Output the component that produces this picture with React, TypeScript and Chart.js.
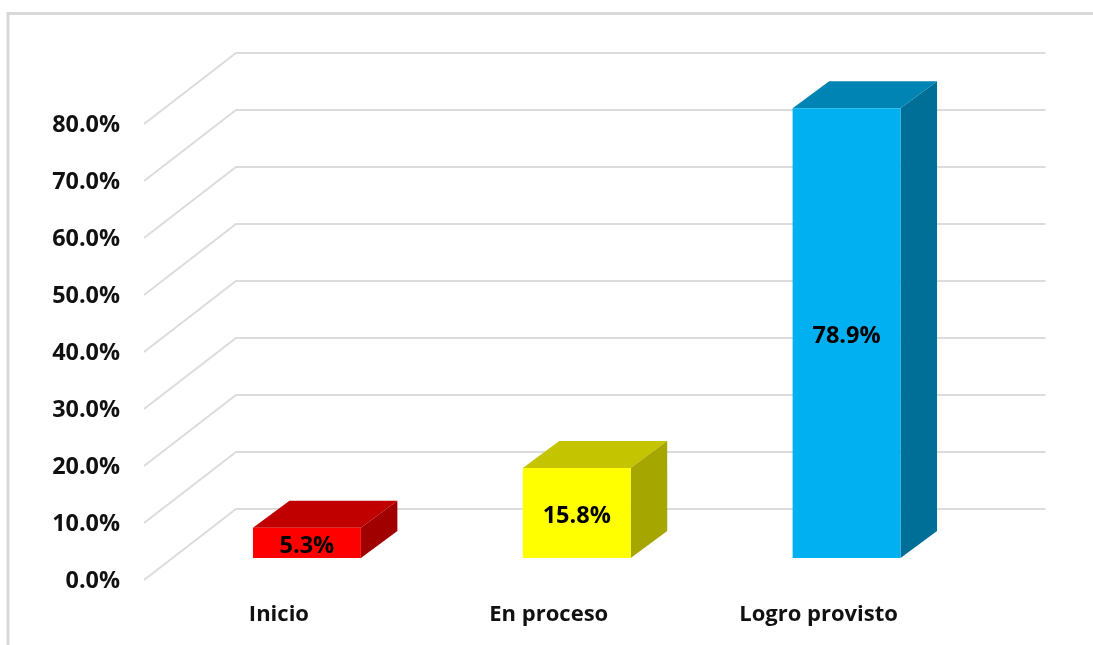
import React, { useEffect, useRef } from "react";
import { Chart, registerables } from "chart.js";

Chart.register(...registerables);

const categories = ["Inicio", "En proceso", "Logro provisto"];
const values = [5.3, 15.8, 78.9];
const frontColors = ["#FF0000", "#FFFF00", "#00B0F0"];
const topColors = ["#C00000", "#C4C400", "#0084B4"];
const sideColors = ["#A00000", "#A6A600", "#006F97"];
const gridValues = [0, 10, 20, 30, 40, 50, 60, 70, 80];

const FONT = "'Open Sans', sans-serif";
const WALL_DX = 92;
const WALL_DY = -71;
const BAR_SHIFT_X = 28;
const BAR_SHIFT_Y = -22;
const DEPTH_X = 36.5;
const DEPTH_Y = -27;
const Y_LABEL_NUDGE = 1.5;

const poly = (ctx: CanvasRenderingContext2D, pts: number[][], fill: string) => {
  ctx.beginPath();
  pts.forEach((p, i) => (i ? ctx.lineTo(p[0], p[1]) : ctx.moveTo(p[0], p[1])));
  ctx.closePath();
  ctx.fillStyle = fill;
  ctx.fill();
};

const frame3d = {
  id: "frame3d",
  beforeDraw(chart: any) {
    const { ctx, chartArea, scales } = chart;
    scales.y.getLabelItems().forEach((item: any) => {
      if (!item.nudged) {
        item.options.translation[1] += Y_LABEL_NUDGE;
        item.nudged = true;
      }
    });
    ctx.save();
    ctx.strokeStyle = "#D9D9D9";
    ctx.lineWidth = 3;
    ctx.beginPath();
    ctx.moveTo(8, 645);
    ctx.lineTo(8, 13.5);
    ctx.lineTo(1093, 13.5);
    ctx.stroke();
    ctx.lineWidth = 2;
    ctx.strokeStyle = "#DCDCDC";
    gridValues.forEach((v) => {
      const y = scales.y.getPixelForValue(v);
      ctx.beginPath();
      ctx.moveTo(chartArea.left, y);
      ctx.lineTo(chartArea.left + WALL_DX, y + WALL_DY);
      ctx.lineTo(chartArea.right + WALL_DX, y + WALL_DY);
      ctx.stroke();
    });
    ctx.restore();
  },
  beforeDatasetsDraw(chart: any) {
    const { ctx } = chart;
    ctx.save();
    ctx.translate(BAR_SHIFT_X, BAR_SHIFT_Y);
    chart.getDatasetMeta(0).data.forEach((bar: any, i: number) => {
      const p = bar.getProps(["x", "y", "base", "width"], true);
      const l = p.x - p.width / 2;
      const r = p.x + p.width / 2;
      poly(ctx, [[l, p.y], [r, p.y], [r + DEPTH_X, p.y + DEPTH_Y], [l + DEPTH_X, p.y + DEPTH_Y]], topColors[i]);
      poly(ctx, [[r, p.y], [r + DEPTH_X, p.y + DEPTH_Y], [r + DEPTH_X, p.base + DEPTH_Y], [r, p.base]], sideColors[i]);
    });
  },
  afterDatasetsDraw(chart: any) {
    const { ctx } = chart;
    ctx.restore();
    ctx.save();
    ctx.fillStyle = "#000000";
    ctx.font = `bold 23.5px ${FONT}`;
    ctx.textAlign = "center";
    ctx.textBaseline = "middle";
    chart.getDatasetMeta(0).data.forEach((bar: any, i: number) => {
      const p = bar.getProps(["x", "y", "base"], true);
      ctx.fillText(`${values[i].toFixed(1)}%`, p.x + BAR_SHIFT_X, (p.y + p.base) / 2 + BAR_SHIFT_Y + 3);
    });
    ctx.restore();
  },
};

export default function App() {
  const ref = useRef<HTMLCanvasElement>(null);
  useEffect(() => {
    const chart = new Chart(ref.current!, {
      type: "bar",
      data: {
        labels: categories,
        datasets: [
          {
            data: values,
            backgroundColor: frontColors,
            barPercentage: 0.4,
            categoryPercentage: 1,
          },
        ],
      },
      options: {
        responsive: false,
        animation: false,
        layout: { padding: { top: 124, right: 139.5, left: 0, bottom: 0 } },
        plugins: { legend: { display: false }, tooltip: { enabled: false } },
        scales: {
          x: {
            afterFit: (s: any) => {
              s.height = 65;
            },
            grid: { display: false, drawTicks: false },
            border: { display: false },
            ticks: {
              color: "#111111",
              padding: 22,
              maxRotation: 0,
              font: { family: FONT, weight: "bold", size: 22 },
            },
          },
          y: {
            min: 0,
            max: 80,
            afterFit: (s: any) => {
              s.width = 144;
            },
            grid: { display: false, drawTicks: false },
            border: { display: false },
            ticks: {
              stepSize: 10,
              color: "#111111",
              padding: 24,
              font: { family: FONT, weight: "bold", size: 23.4 },
              callback: (v: any) => `${Number(v).toFixed(1)}%`,
            },
          },
        },
      },
      plugins: [frame3d],
    });
    return () => chart.destroy();
  }, []);
  return (
    <canvas
      ref={ref}
      width={1093}
      height={645}
      style={{ position: "absolute", left: 0, top: 0, width: 1093, height: 645, background: "#fff" }}
    />
  );
}
